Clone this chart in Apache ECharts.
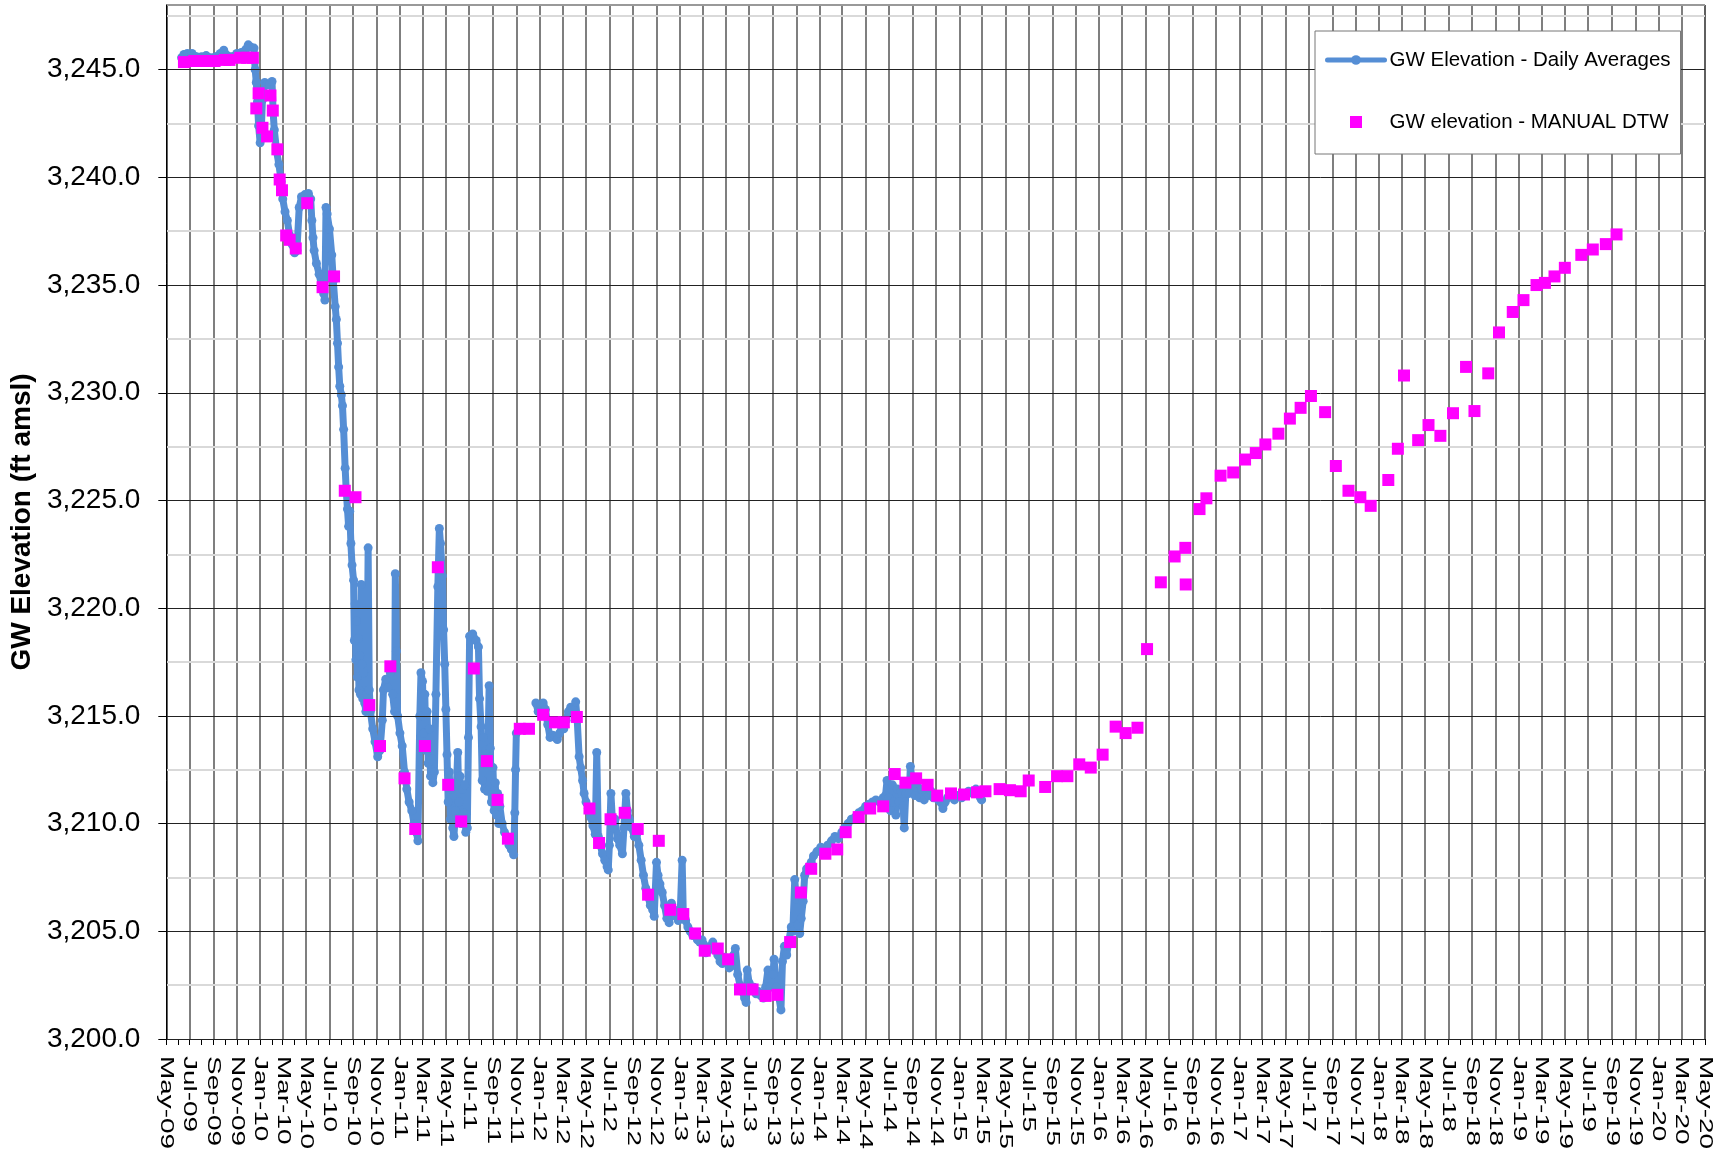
<!DOCTYPE html>
<html>
<head>
<meta charset="utf-8">
<title>GW Elevation</title>
<script src="https://cdn.jsdelivr.net/npm/echarts@6/dist/echarts.min.js"></script>
<style>
  html, body { margin: 0; padding: 0; background: #fff; }
  #chart { width: 1722px; height: 1151px; }
</style>
</head>
<body>
<div id="chart"></div>
<script>
// daily average groundwater elevation (transducer), ft amsl
const dailyAvg = [
  ['2009-06-10', 3245.55], ['2009-06-16', 3245.7], ['2009-06-25', 3245.75], ['2009-07-07', 3245.75],
  ['2009-07-19', 3245.6], ['2009-08-01', 3245.6], ['2009-08-13', 3245.65], ['2009-08-25', 3245.55],
  ['2009-09-07', 3245.6], ['2009-09-19', 3245.75], ['2009-09-28', 3245.9], ['2009-10-07', 3245.65],
  ['2009-10-19', 3245.6], ['2009-11-01', 3245.75], ['2009-11-13', 3245.8], ['2009-11-25', 3245.95],
  ['2009-12-01', 3246.15], ['2009-12-07', 3246.05], ['2009-12-16', 3246.0], ['2009-12-19', 3245.0],
  ['2009-12-22', 3244.4], ['2009-12-25', 3243.5], ['2009-12-28', 3242.4], ['2010-01-01', 3241.6],
  ['2010-01-04', 3242.2], ['2010-01-07', 3243.6], ['2010-01-13', 3244.4], ['2010-01-19', 3244.3],
  ['2010-01-25', 3244.3], ['2010-02-01', 3244.45], ['2010-02-04', 3243.0], ['2010-02-07', 3242.2],
  ['2010-02-13', 3241.2], ['2010-02-19', 3240.6], ['2010-02-25', 3239.8], ['2010-03-01', 3239.0],
  ['2010-03-07', 3238.4], ['2010-03-13', 3238.0], ['2010-03-19', 3237.3], ['2010-03-25', 3236.9],
  ['2010-04-01', 3236.5], ['2010-04-07', 3236.6], ['2010-04-13', 3238.6], ['2010-04-19', 3239.1],
  ['2010-04-28', 3239.2], ['2010-05-07', 3239.25], ['2010-05-13', 3239.0], ['2010-05-16', 3238.0],
  ['2010-05-19', 3237.2], ['2010-05-22', 3236.6], ['2010-05-28', 3236.0], ['2010-06-04', 3235.5],
  ['2010-06-10', 3235.0], ['2010-06-16', 3234.6], ['2010-06-19', 3234.3], ['2010-06-22', 3238.6],
  ['2010-06-25', 3238.3], ['2010-07-01', 3237.6], ['2010-07-07', 3236.4], ['2010-07-11', 3235.2],
  ['2010-07-16', 3234.0], ['2010-07-19', 3233.4], ['2010-07-22', 3232.3], ['2010-07-25', 3231.2],
  ['2010-07-28', 3230.3], ['2010-08-01', 3229.9], ['2010-08-04', 3229.4], ['2010-08-07', 3228.3],
  ['2010-08-11', 3226.5], ['2010-08-14', 3225.4], ['2010-08-17', 3224.6], ['2010-08-20', 3223.8],
  ['2010-08-23', 3224.5], ['2010-08-26', 3223.0], ['2010-08-29', 3222.0], ['2010-09-02', 3221.3],
  ['2010-09-04', 3218.5], ['2010-09-06', 3220.2], ['2010-09-08', 3217.6], ['2010-09-10', 3219.4],
  ['2010-09-12', 3216.8], ['2010-09-14', 3218.6], ['2010-09-16', 3216.2], ['2010-09-18', 3217.8],
  ['2010-09-20', 3216.0], ['2010-09-22', 3221.1], ['2010-09-24', 3217.4], ['2010-09-26', 3215.8],
  ['2010-09-28', 3217.0], ['2010-10-01', 3215.6], ['2010-10-04', 3215.2], ['2010-10-07', 3216.0],
  ['2010-10-10', 3222.8], ['2010-10-13', 3216.2], ['2010-10-16', 3215.2], ['2010-10-22', 3214.4],
  ['2010-10-28', 3213.8], ['2010-11-04', 3213.1], ['2010-11-10', 3213.4], ['2010-11-16', 3214.8],
  ['2010-11-19', 3216.2], ['2010-11-25', 3216.7], ['2010-12-01', 3216.3], ['2010-12-07', 3217.0],
  ['2010-12-13', 3216.0], ['2010-12-18', 3215.2], ['2010-12-20', 3221.6], ['2010-12-23', 3218.0],
  ['2010-12-26', 3215.0], ['2011-01-01', 3214.2], ['2011-01-07', 3213.6], ['2011-01-13', 3212.4],
  ['2011-01-19', 3211.6], ['2011-01-25', 3211.0], ['2011-02-01', 3210.6], ['2011-02-07', 3210.0],
  ['2011-02-13', 3209.6], ['2011-02-17', 3209.2], ['2011-02-22', 3215.0], ['2011-02-25', 3217.0],
  ['2011-03-01', 3216.6], ['2011-03-04', 3214.2], ['2011-03-07', 3216.0], ['2011-03-10', 3213.4],
  ['2011-03-13', 3215.2], ['2011-03-16', 3212.8], ['2011-03-19', 3214.4], ['2011-03-22', 3212.2],
  ['2011-03-25', 3213.0], ['2011-03-28', 3211.9], ['2011-04-01', 3212.4], ['2011-04-05', 3216.0],
  ['2011-04-10', 3221.0], ['2011-04-14', 3223.7], ['2011-04-17', 3223.0], ['2011-04-22', 3221.5],
  ['2011-04-25', 3219.0], ['2011-04-28', 3217.4], ['2011-05-01', 3215.3], ['2011-05-04', 3213.2],
  ['2011-05-07', 3211.0], ['2011-05-10', 3212.4], ['2011-05-13', 3210.2], ['2011-05-16', 3211.6],
  ['2011-05-19', 3209.8], ['2011-05-22', 3209.4], ['2011-05-26', 3210.6], ['2011-06-01', 3213.3],
  ['2011-06-04', 3211.0], ['2011-06-07', 3212.2], ['2011-06-10', 3210.0], ['2011-06-13', 3211.6],
  ['2011-06-16', 3210.5], ['2011-06-19', 3211.8], ['2011-06-22', 3209.6], ['2011-06-26', 3209.8],
  ['2011-06-29', 3214.0], ['2011-07-02', 3218.7], ['2011-07-10', 3218.8], ['2011-07-19', 3218.5],
  ['2011-07-25', 3218.2], ['2011-07-28', 3215.8], ['2011-08-01', 3214.5], ['2011-08-04', 3212.0],
  ['2011-08-07', 3214.0], ['2011-08-10', 3211.6], ['2011-08-13', 3213.4], ['2011-08-17', 3211.5],
  ['2011-08-22', 3216.4], ['2011-08-25', 3213.5], ['2011-08-28', 3211.0], ['2011-09-01', 3212.6],
  ['2011-09-04', 3210.6], ['2011-09-07', 3211.9], ['2011-09-10', 3210.4], ['2011-09-13', 3211.4],
  ['2011-09-16', 3210.0], ['2011-09-19', 3210.8], ['2011-09-25', 3210.0], ['2011-10-01', 3209.6],
  ['2011-10-07', 3209.4], ['2011-10-13', 3209.0], ['2011-10-19', 3208.8], ['2011-10-25', 3208.55],
  ['2011-10-28', 3210.5], ['2011-10-30', 3212.5], ['2011-11-01', 3214.2], ['2011-11-20', '-'],
  ['2011-12-22', 3215.6], ['2011-12-28', 3215.2], ['2012-01-04', 3215.3], ['2012-01-10', 3215.6],
  ['2012-01-16', 3215.3], ['2012-01-22', 3214.6], ['2012-01-28', 3214.0], ['2012-02-04', 3214.1],
  ['2012-02-10', 3214.0], ['2012-02-16', 3213.9], ['2012-02-22', 3214.2], ['2012-02-28', 3214.6],
  ['2012-03-04', 3214.4], ['2012-03-10', 3214.8], ['2012-03-16', 3215.2], ['2012-03-22', 3215.4],
  ['2012-03-28', 3215.3], ['2012-04-04', 3215.65], ['2012-04-08', 3214.8], ['2012-04-13', 3213.1],
  ['2012-04-17', 3212.6], ['2012-04-22', 3212.0], ['2012-04-26', 3211.4], ['2012-05-01', 3211.0],
  ['2012-05-07', 3210.7], ['2012-05-13', 3210.3], ['2012-05-19', 3209.9], ['2012-05-25', 3209.5],
  ['2012-05-29', 3213.3], ['2012-06-02', 3209.4], ['2012-06-07', 3209.0], ['2012-06-13', 3208.6],
  ['2012-06-19', 3208.3], ['2012-06-25', 3208.0], ['2012-06-28', 3207.85], ['2012-07-01', 3209.0],
  ['2012-07-05', 3211.4], ['2012-07-10', 3209.8], ['2012-07-16', 3210.2], ['2012-07-22', 3209.3],
  ['2012-07-28', 3209.0], ['2012-08-04', 3208.6], ['2012-08-08', 3209.8], ['2012-08-13', 3211.4],
  ['2012-08-17', 3210.6], ['2012-08-22', 3210.2], ['2012-08-28', 3209.8], ['2012-09-04', 3209.4],
  ['2012-09-10', 3209.5], ['2012-09-16', 3209.0], ['2012-09-22', 3208.3], ['2012-09-28', 3207.6],
  ['2012-10-04', 3207.0], ['2012-10-10', 3206.6], ['2012-10-16', 3206.2], ['2012-10-22', 3206.0],
  ['2012-10-26', 3205.7], ['2012-11-01', 3208.2], ['2012-11-05', 3207.6], ['2012-11-10', 3207.2],
  ['2012-11-16', 3206.8], ['2012-11-22', 3206.2], ['2012-11-28', 3205.6], ['2012-12-04', 3205.4],
  ['2012-12-10', 3206.3], ['2012-12-16', 3206.0], ['2012-12-22', 3205.7], ['2012-12-28', 3205.5],
  ['2013-01-02', 3205.9], ['2013-01-07', 3208.3], ['2013-01-10', 3205.8], ['2013-01-16', 3205.5],
  ['2013-01-22', 3205.2], ['2013-01-28', 3205.0], ['2013-02-04', 3204.8], ['2013-02-10', 3204.9],
  ['2013-02-16', 3204.6], ['2013-02-22', 3204.5], ['2013-02-28', 3204.6], ['2013-03-04', 3204.4],
  ['2013-03-10', 3204.0], ['2013-03-16', 3204.1], ['2013-03-22', 3204.3], ['2013-03-28', 3204.5],
  ['2013-04-04', 3204.2], ['2013-04-10', 3203.9], ['2013-04-16', 3203.6], ['2013-04-22', 3203.5],
  ['2013-04-28', 3203.8], ['2013-05-04', 3203.6], ['2013-05-10', 3203.3], ['2013-05-16', 3203.4],
  ['2013-05-22', 3203.9], ['2013-05-26', 3204.2], ['2013-06-01', 3203.0], ['2013-06-07', 3202.5],
  ['2013-06-13', 3202.2], ['2013-06-19', 3201.9], ['2013-06-23', 3201.7], ['2013-06-26', 3203.2],
  ['2013-07-01', 3202.6], ['2013-07-07', 3202.3], ['2013-07-13', 3202.4], ['2013-07-19', 3202.1],
  ['2013-07-25', 3202.2], ['2013-08-01', 3202.0], ['2013-08-07', 3201.9], ['2013-08-13', 3202.4],
  ['2013-08-19', 3203.2], ['2013-08-25', 3202.4], ['2013-09-01', 3203.0], ['2013-09-04', 3203.7],
  ['2013-09-10', 3202.4], ['2013-09-16', 3202.0], ['2013-09-22', 3201.35], ['2013-09-26', 3203.6],
  ['2013-10-01', 3204.3], ['2013-10-07', 3203.9], ['2013-10-13', 3204.6], ['2013-10-19', 3205.2],
  ['2013-10-23', 3205.0], ['2013-10-28', 3207.4], ['2013-11-01', 3206.5], ['2013-11-05', 3205.3],
  ['2013-11-10', 3204.9], ['2013-11-14', 3205.6], ['2013-11-19', 3206.4], ['2013-11-23', 3207.6],
  ['2013-11-28', 3207.9], ['2013-12-04', 3208.0], ['2013-12-10', 3208.2], ['2013-12-16', 3208.5],
  ['2013-12-25', 3208.7], ['2014-01-04', 3208.9], ['2014-01-13', 3208.8], ['2014-01-22', 3209.0],
  ['2014-02-01', 3209.2], ['2014-02-10', 3209.4], ['2014-02-19', 3209.3], ['2014-02-28', 3209.6],
  ['2014-03-07', 3209.8], ['2014-03-16', 3210.0], ['2014-03-25', 3210.2], ['2014-04-04', 3210.3],
  ['2014-04-13', 3210.5], ['2014-04-22', 3210.6], ['2014-05-01', 3210.8], ['2014-05-10', 3210.9],
  ['2014-05-19', 3211.0], ['2014-05-28', 3211.1], ['2014-06-07', 3211.0], ['2014-06-16', 3211.2],
  ['2014-06-22', 3211.3], ['2014-06-26', 3212.0], ['2014-07-01', 3211.2], ['2014-07-05', 3210.6],
  ['2014-07-10', 3211.8], ['2014-07-14', 3211.0], ['2014-07-19', 3210.4], ['2014-07-23', 3211.6],
  ['2014-07-28', 3211.0], ['2014-08-02', 3211.5], ['2014-08-07', 3210.8], ['2014-08-10', 3209.8],
  ['2014-08-14', 3211.4], ['2014-08-19', 3211.9], ['2014-08-23', 3211.4], ['2014-08-26', 3212.65],
  ['2014-09-01', 3211.8], ['2014-09-07', 3211.3], ['2014-09-13', 3211.9], ['2014-09-19', 3211.2],
  ['2014-09-25', 3211.6], ['2014-10-01', 3211.1], ['2014-10-07', 3211.5], ['2014-10-13', 3211.3],
  ['2014-10-19', 3211.5], ['2014-10-25', 3211.2], ['2014-11-01', 3211.3], ['2014-11-07', 3211.1],
  ['2014-11-13', 3211.0], ['2014-11-19', 3210.7], ['2014-11-25', 3211.0], ['2014-12-01', 3211.2],
  ['2014-12-10', 3211.3], ['2014-12-19', 3211.1], ['2014-12-28', 3211.3], ['2015-01-07', 3211.2],
  ['2015-01-16', 3211.3], ['2015-01-25', 3211.5], ['2015-02-04', 3211.4], ['2015-02-13', 3211.6],
  ['2015-02-19', 3211.5], ['2015-02-25', 3211.2], ['2015-02-28', 3211.1]
]

// manual depth-to-water readings converted to elevation, ft amsl
const manualDtw = [
  ['2009-06-16', 3245.35], ['2009-07-13', 3245.4], ['2009-08-10', 3245.4], ['2009-09-04', 3245.4],
  ['2009-10-01', 3245.45], ['2009-10-13', 3245.45], ['2009-11-10', 3245.55], ['2009-11-28', 3245.55],
  ['2009-12-13', 3245.55], ['2009-12-22', 3243.2], ['2009-12-28', 3243.9], ['2010-01-07', 3242.3],
  ['2010-01-19', 3241.9], ['2010-01-28', 3243.8], ['2010-02-03', 3243.1], ['2010-02-15', 3241.3],
  ['2010-02-21', 3239.9], ['2010-02-27', 3239.4], ['2010-03-10', 3237.3], ['2010-03-19', 3237.1],
  ['2010-04-04', 3236.7], ['2010-05-04', 3238.8], ['2010-06-13', 3234.9], ['2010-07-13', 3235.4],
  ['2010-08-10', 3225.45], ['2010-09-07', 3225.15], ['2010-10-13', 3215.5], ['2010-11-10', 3213.6],
  ['2010-12-07', 3217.3], ['2011-01-13', 3212.1], ['2011-02-10', 3209.75], ['2011-03-07', 3213.6],
  ['2011-04-10', 3221.9], ['2011-05-07', 3211.8], ['2011-06-10', 3210.1], ['2011-07-13', 3217.2],
  ['2011-08-16', 3212.9], ['2011-09-13', 3211.1], ['2011-10-10', 3209.3], ['2011-11-10', 3214.4],
  ['2011-12-04', 3214.4], ['2012-01-10', 3215.05], ['2012-02-10', 3214.7], ['2012-03-04', 3214.7],
  ['2012-04-07', 3214.95], ['2012-05-10', 3210.7], ['2012-06-04', 3209.1], ['2012-07-04', 3210.2],
  ['2012-08-10', 3210.5], ['2012-09-13', 3209.75], ['2012-10-10', 3206.7], ['2012-11-07', 3209.2],
  ['2012-12-07', 3206.0], ['2013-01-10', 3205.8], ['2013-02-10', 3204.9], ['2013-03-07', 3204.1],
  ['2013-04-10', 3204.2], ['2013-05-07', 3203.7], ['2013-06-07', 3202.3], ['2013-07-10', 3202.3],
  ['2013-08-13', 3202.0], ['2013-09-13', 3202.05], ['2013-10-16', 3204.5], ['2013-11-13', 3206.8],
  ['2013-12-10', 3207.9], ['2014-01-16', 3208.6], ['2014-02-16', 3208.8], ['2014-03-10', 3209.6],
  ['2014-04-13', 3210.3], ['2014-05-13', 3210.7], ['2014-06-16', 3210.8], ['2014-07-16', 3212.3],
  ['2014-08-13', 3211.9], ['2014-09-10', 3212.1], ['2014-10-10', 3211.8], ['2014-11-04', 3211.3],
  ['2014-12-10', 3211.4], ['2015-01-13', 3211.35], ['2015-02-16', 3211.45], ['2015-03-10', 3211.5],
  ['2015-04-16', 3211.6], ['2015-05-13', 3211.55], ['2015-06-10', 3211.5], ['2015-07-01', 3212.0],
  ['2015-08-13', 3211.7], ['2015-09-13', 3212.2], ['2015-10-10', 3212.2], ['2015-11-10', 3212.75],
  ['2015-12-10', 3212.6], ['2016-01-10', 3213.2], ['2016-02-13', 3214.5], ['2016-03-10', 3214.2],
  ['2016-04-10', 3214.45], ['2016-05-05', 3218.1], ['2016-06-10', 3221.2], ['2016-07-16', 3222.4],
  ['2016-08-13', 3222.8], ['2016-08-14', 3221.1], ['2016-09-19', 3224.6], ['2016-10-07', 3225.1],
  ['2016-11-13', 3226.15], ['2016-12-16', 3226.3], ['2017-01-16', 3226.9], ['2017-02-13', 3227.2],
  ['2017-03-10', 3227.6], ['2017-04-13', 3228.1], ['2017-05-13', 3228.8], ['2017-06-10', 3229.3],
  ['2017-07-07', 3229.85], ['2017-08-13', 3229.1], ['2017-09-10', 3226.6], ['2017-10-13', 3225.45],
  ['2017-11-13', 3225.15], ['2017-12-10', 3224.75], ['2018-01-25', 3225.95], ['2018-02-19', 3227.4],
  ['2018-03-07', 3230.8], ['2018-04-13', 3227.8], ['2018-05-10', 3228.5], ['2018-06-10', 3228.0],
  ['2018-07-13', 3229.05], ['2018-08-16', 3231.2], ['2018-09-07', 3229.15], ['2018-10-13', 3230.9],
  ['2018-11-10', 3232.8], ['2018-12-16', 3233.75], ['2019-01-13', 3234.3], ['2019-02-16', 3235.0],
  ['2019-03-10', 3235.1], ['2019-04-04', 3235.4], ['2019-05-01', 3235.8], ['2019-06-13', 3236.4],
  ['2019-07-13', 3236.65], ['2019-08-16', 3236.9], ['2019-09-13', 3237.35]
]

// axis ticks: a tick every month, a grid line and label every second month
const MONTHS = ['Jan', 'Feb', 'Mar', 'Apr', 'May', 'Jun', 'Jul', 'Aug', 'Sep', 'Oct', 'Nov', 'Dec']
const monthTicks = []
const labelTicks = []
for (let k = 0; k <= 132; k++) {
  const t = new Date(2009, 4 + k, 1).getTime()
  monthTicks.push(t)
  if (k % 2 === 0) labelTicks.push(t)
}
const tickLabels = labelTicks.map(t => {
  const d = new Date(t)
  return MONTHS[d.getMonth()] + '-' + String(d.getFullYear()).slice(2)
})
const yTicks = [3200, 3205, 3210, 3215, 3220, 3225, 3230, 3235, 3240, 3245]
const yMinorTicks = [3202.5, 3207.5, 3212.5, 3217.5, 3222.5, 3227.5, 3232.5, 3237.5, 3242.5, 3247.5, 3248]

const FONT = 'Liberation Sans, Arial, sans-serif'
const BLUE = '#558ED5'
const MAGENTA = '#FF00FF'
const xMin = new Date(2009, 4, 1).getTime()
const xMax = new Date(2020, 4, 1).getTime()

const chart = echarts.init(document.getElementById('chart'))

const option = {
  animation: false,
  backgroundColor: '#fff',
  textStyle: { fontFamily: FONT },
  grid: { left: 164, right: 17, top: 5, bottom: 112 },
  legend: {
    orient: 'vertical',
    left: 1315,
    top: 31,
    padding: [17, 10, 20, 10],
    itemWidth: 57,
    itemHeight: 12,
    itemGap: 38,
    backgroundColor: '#fff',
    borderColor: '#777',
    borderWidth: 1,
    textStyle: { fontSize: 20.5, color: '#000', lineHeight: 24, fontFamily: FONT },
    data: [
      { name: 'GW Elevation - Daily Averages', lineStyle: { width: 5, color: BLUE } },
      { name: 'GW elevation - MANUAL DTW', icon: 'path://M0,0L10,0L10,10L0,10Z' }
    ]
  },
  xAxis: [
    {
      type: 'time',
      min: xMin,
      max: xMax,
      position: 'bottom',
      axisLine: { show: true, lineStyle: { color: '#000', width: 1 } },
      axisTick: { show: false, customValues: labelTicks },
      axisLabel: { show: false },
      splitLine: { show: true, lineStyle: { color: '#555', width: 1.5 } }
    },
    {
      type: 'time',
      min: xMin,
      max: xMax,
      position: 'bottom',
      axisLine: { show: false },
      axisTick: { show: true, customValues: monthTicks, length: 6, lineStyle: { color: '#000', width: 1 } },
      axisLabel: { show: false },
      splitLine: { show: false }
    }
  ],
  yAxis: [
    {
      type: 'value',
      min: 3200,
      max: 3248,
      interval: 5,
      z: 3,
      name: 'GW Elevation (ft amsl)',
      nameLocation: 'middle',
      nameGap: 122,
      nameTextStyle: { fontSize: 28, fontWeight: 'bold', color: '#000', fontFamily: FONT },
      axisLine: { show: true, lineStyle: { color: '#000', width: 1 } },
      axisTick: { show: true, length: 8, customValues: yTicks, lineStyle: { color: '#000' } },
      axisLabel: {
        customValues: yTicks,
        fontSize: 28,
        color: '#000',
        margin: 26,
        formatter: v => (v % 5 === 0 ? v.toLocaleString('en-US', { minimumFractionDigits: 1, maximumFractionDigits: 1 }) : '')
      },
      splitLine: { show: true, lineStyle: { color: '#222', width: 1 } }
    },
    {
      type: 'value',
      min: 3200,
      max: 3248,
      interval: 2.5,
      position: 'left',
      z: 1,
      axisLine: { show: false },
      axisTick: { show: false, customValues: yMinorTicks },
      axisLabel: { show: false },
      splitLine: {
        show: true,
        lineStyle: {
          color: ['#d9d9d9', '#d9d9d9', '#d9d9d9', '#d9d9d9', '#d9d9d9', '#d9d9d9', '#d9d9d9', '#d9d9d9', '#d9d9d9', '#d9d9d9', '#999'],
          width: 2
        }
      }
    }
  ],
  series: [
    {
      name: 'GW Elevation - Daily Averages',
      type: 'line',
      xAxisIndex: 0,
      yAxisIndex: 0,
      data: dailyAvg,
      symbol: 'circle',
      symbolSize: 9,
      showSymbol: true,
      showAllSymbol: true,
      connectNulls: false,
      itemStyle: { color: BLUE, opacity: 1 },
      // daily points overlap into a band about as wide as one marker
      lineStyle: { color: BLUE, width: 7, cap: 'round', join: 'round' },
      z: 2
    },
    {
      name: 'GW elevation - MANUAL DTW',
      type: 'scatter',
      xAxisIndex: 0,
      yAxisIndex: 0,
      data: manualDtw,
      symbol: 'rect',
      symbolSize: 12,
      itemStyle: { color: MAGENTA, opacity: 1 },
      z: 3
    }
  ]
}

chart.setOption(option)

// rotated month labels, stretched along the text like the original
const labelTop = 1056
chart.setOption({
  graphic: labelTicks.map((t, i) => ({
    type: 'text',
    x: chart.convertToPixel({ xAxisIndex: 0 }, t),
    y: labelTop,
    rotation: -Math.PI / 2,
    scaleX: 1.47,
    style: {
      text: tickLabels[i],
      fontSize: 19,
      fontFamily: FONT,
      fill: '#000',
      align: 'left',
      verticalAlign: 'middle',
      textAlign: 'left',
      textVerticalAlign: 'middle'
    }
  }))
})
</script>
</body>
</html>
